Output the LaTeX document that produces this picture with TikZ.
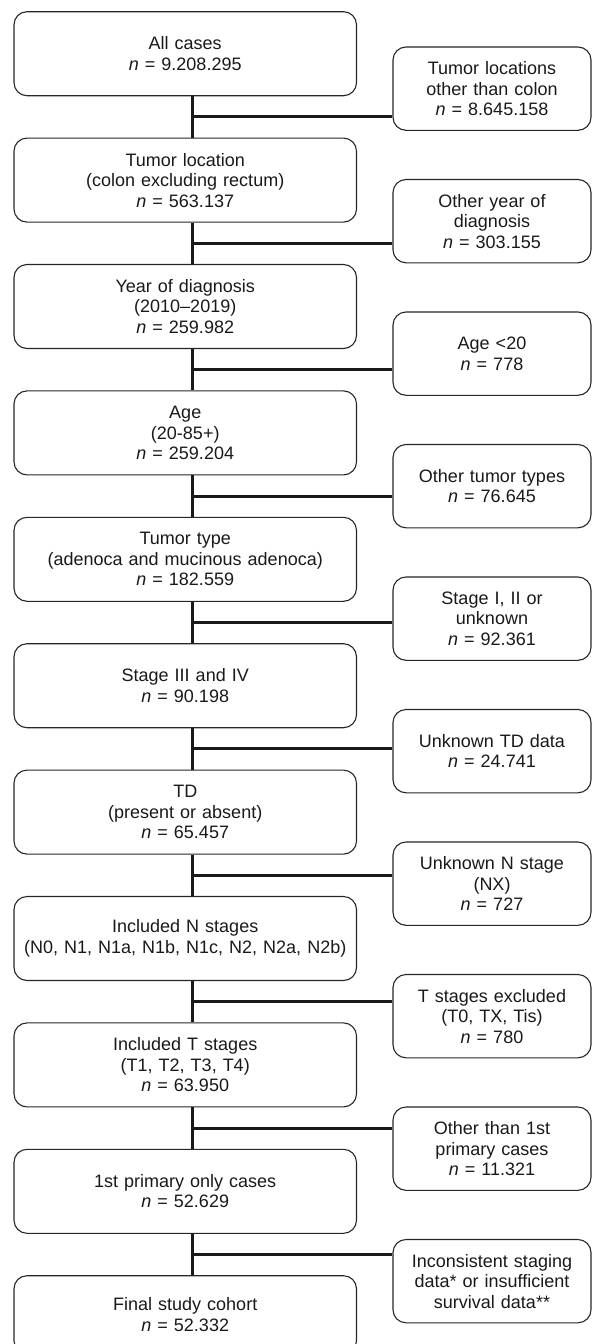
\documentclass[tikz,border=0pt]{standalone}
\usepackage{fontspec}
\setmainfont{Liberation Sans}
\usetikzlibrary{positioning,calc}

\begin{document}
\begin{tikzpicture}[thin,
stepbox/.style={draw=black!85,line width=1.1pt,rounded corners=13pt,minimum width=342.5pt,minimum height=84pt,text width=330pt,align=center,inner sep=0pt,font=\fontsize{18pt}{20.5pt}\selectfont,text=black!90},
dropbox/.style={stepbox,minimum width=198pt,minimum height=83.3pt,text width=190pt},
link/.style={line width=3pt,draw=black!90}]
\useasboundingbox (0pt,0pt) rectangle (593pt,-1344pt);

% main flow
\node[stepbox]	(all) at (185.25pt,-53.7pt)	{All cases\\\textit{n} = 9.208.295};
\node[stepbox]	(loc) [below=41.3pt of all]	{Tumor location\\(colon excluding rectum)\\\textit{n} = 563.137};
\node[stepbox]	(year) [below=41.3pt of loc]	{Year of diagnosis\\(2010--2019)\\\textit{n} = 259.982};
\node[stepbox]	(age) [below=41.3pt of year]	{Age\\(20-85+)\\\textit{n} = 259.204};
\node[stepbox]	(type) [below=41.3pt of age]	{Tumor type\\(adenoca and mucinous adenoca)\\\textit{n} = 182.559};
\node[stepbox]	(stage) [below=41.3pt of type]	{Stage III and IV\\\textit{n} = 90.198};
\node[stepbox]	(td) [below=41.3pt of stage]	{TD\\(present or absent)\\\textit{n} = 65.457};
\node[stepbox]	(nst) [below=41.3pt of td]	{Included N stages\\(N0, N1, N1a, N1b, N1c, N2, N2a, N2b)};
\node[stepbox]	(tst) [below=41.3pt of nst]	{Included T stages\\(T1, T2, T3, T4)\\\textit{n} = 63.950};
\node[stepbox]	(prim) [below=41.3pt of tst]	{1st primary only cases\\\textit{n} = 52.629};
\node[stepbox,minimum height=78pt]	(final) [below=41.3pt of prim]	{Final study cohort\\\textit{n} = 52.332};

% exclusions
\node[dropbox]	(xloc) at (492pt,-88.65pt)	{Tumor locations\\other than colon\\\textit{n} = 8.645.158};
\node[dropbox]	(xyear) [below=48.1pt of xloc]	{Other year of\\diagnosis\\\textit{n} = 303.155};
\node[dropbox]	(xage) [below=48.1pt of xyear]	{Age {<}20\\\textit{n} = 778};
\node[dropbox]	(xtype) [below=48.1pt of xage]	{Other tumor types\\\textit{n} = 76.645};
\node[dropbox]	(xstage) [below=48.1pt of xtype]	{Stage I, II or\\unknown\\\textit{n} = 92.361};
\node[dropbox]	(xtd) [below=48.1pt of xstage]	{Unknown TD data\\\textit{n} = 24.741};
\node[dropbox]	(xnst) [below=48.1pt of xtd]	{Unknown N stage\\(NX)\\\textit{n} = 727};
\node[dropbox]	(xtst) [below=48.1pt of xnst]	{T stages excluded\\(T0, TX, Tis)\\\textit{n} = 780};
\node[dropbox]	(xprim) [below=48.1pt of xtst]	{Other than 1st\\primary cases\\\textit{n} = 11.321};
\node[dropbox]	(xdata) [below=48.1pt of xprim]	{Inconsistent staging\\data* or insufficient\\survival data**};

\coordinate (spine) at (192pt,0pt);

% vertical spine
\draw[link] (all.south -| spine) -- (loc.north -| spine);
\draw[link] (loc.south -| spine) -- (year.north -| spine);
\draw[link] (year.south -| spine) -- (age.north -| spine);
\draw[link] (age.south -| spine) -- (type.north -| spine);
\draw[link] (type.south -| spine) -- (stage.north -| spine);
\draw[link] (stage.south -| spine) -- (td.north -| spine);
\draw[link] (td.south -| spine) -- (nst.north -| spine);
\draw[link] (nst.south -| spine) -- (tst.north -| spine);
\draw[link] (tst.south -| spine) -- (prim.north -| spine);
\draw[link] (prim.south -| spine) -- (final.north -| spine);

% branches to the exclusions
\coordinate (j1) at ($(all.south -| spine)!.5!(loc.north -| spine)$);
\coordinate (j2) at ($(loc.south -| spine)!.5!(year.north -| spine)$);
\coordinate (j3) at ($(year.south -| spine)!.5!(age.north -| spine)$);
\coordinate (j4) at ($(age.south -| spine)!.5!(type.north -| spine)$);
\coordinate (j5) at ($(type.south -| spine)!.5!(stage.north -| spine)$);
\coordinate (j6) at ($(stage.south -| spine)!.5!(td.north -| spine)$);
\coordinate (j7) at ($(td.south -| spine)!.5!(nst.north -| spine)$);
\coordinate (j8) at ($(nst.south -| spine)!.5!(tst.north -| spine)$);
\coordinate (j9) at ($(tst.south -| spine)!.5!(prim.north -| spine)$);
\coordinate (j10) at ($(prim.south -| spine)!.5!(final.north -| spine)$);
\draw[link] (j1) -- (j1 -| xloc.west);
\draw[link] (j2) -- (j2 -| xyear.west);
\draw[link] (j3) -- (j3 -| xage.west);
\draw[link] (j4) -- (j4 -| xtype.west);
\draw[link] (j5) -- (j5 -| xstage.west);
\draw[link] (j6) -- (j6 -| xtd.west);
\draw[link] (j7) -- (j7 -| xnst.west);
\draw[link] (j8) -- (j8 -| xtst.west);
\draw[link] (j9) -- (j9 -| xprim.west);
\draw[link] (j10) -- (j10 -| xdata.west);
\end{tikzpicture}
\end{document}
